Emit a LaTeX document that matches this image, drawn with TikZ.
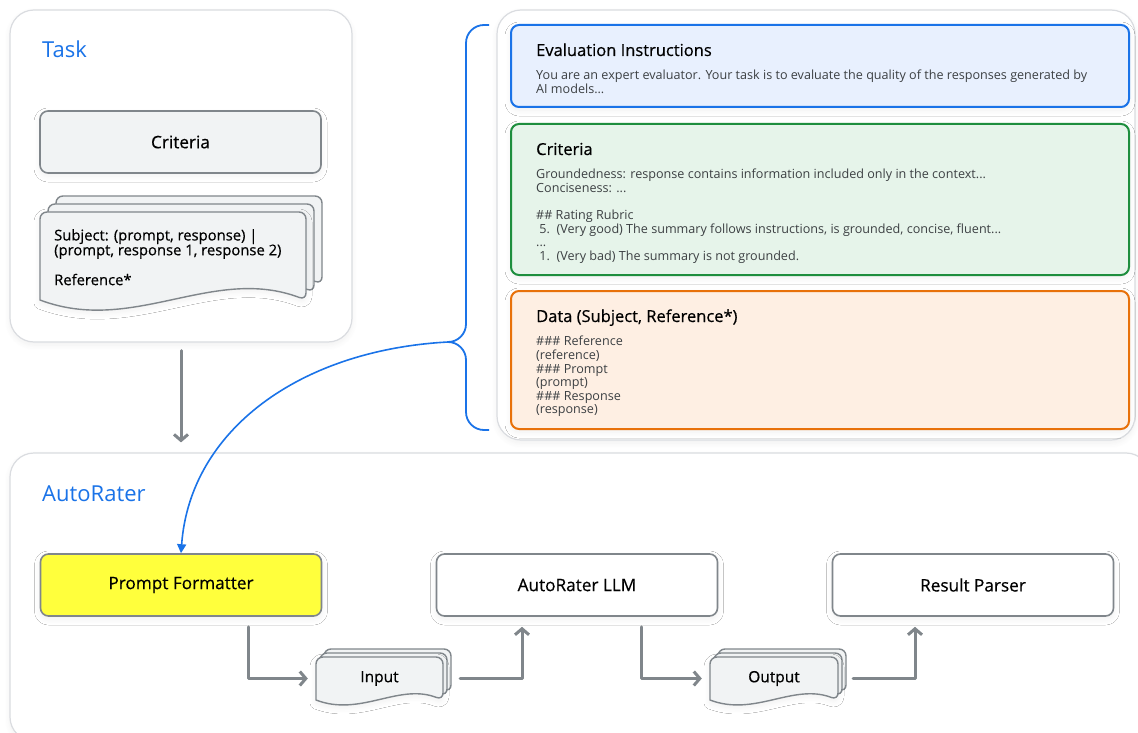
\documentclass[tikz,border=0pt]{standalone}
\usepackage{fontspec}
\setmainfont{Open Sans}
\newfontfamily\mediumfont{Open Sans}[FakeBold=0.5]
\usetikzlibrary{arrows.meta,calc,shadows.blur}

\definecolor{gblue}{HTML}{1A73E8}
\definecolor{ink}{HTML}{202124}
\definecolor{bodyink}{HTML}{3C4043}
\definecolor{panelgray}{HTML}{DADCE0}
\definecolor{boxgray}{HTML}{80868B}
\definecolor{pagegray}{HTML}{F1F3F4}
\definecolor{evalfill}{HTML}{E8F0FE}
\definecolor{critfill}{HTML}{E6F4EA}
\definecolor{critline}{HTML}{1E8E3E}
\definecolor{datafill}{HTML}{FEEFE3}
\definecolor{dataline}{HTML}{E8710A}
\definecolor{marker}{HTML}{FFFF3C}

% stack of three pages with a wavy lower edge: x, y (top left of front page), width, height, offset
\newcommand{\docstack}[5]{%
  \foreach \k in {2,1} {
    \pgfmathsetmacro{\pgx}{#1+\k*#5}
    \pgfmathsetmacro{\pgy}{#2-\k*#5}
    \filldraw[docpage] (\pgx,\pgy+#4) [rounded corners=7] -- (\pgx,\pgy) -- (\pgx+#3,\pgy) -- (\pgx+#3,\pgy+#4) [sharp corners]
      .. controls (\pgx+0.65*#3,\pgy+0.6*#4) and (\pgx+0.35*#3,\pgy+1.4*#4) .. cycle;
  }
  \filldraw[docpage, softshadow] (#1,#2+#4) [rounded corners=7] -- (#1,#2) -- (#1+#3,#2) -- (#1+#3,#2+#4) [sharp corners]
    .. controls (#1+0.65*#3,#2+0.6*#4) and (#1+0.35*#3,#2+1.4*#4) .. cycle;
}

\begin{document}
\begin{tikzpicture}[x=1pt, y=-1pt,
    softshadow/.style={blur shadow={shadow xshift=0pt, shadow yshift=-3pt, shadow opacity=6, shadow blur radius=6pt, shadow blur steps=10}},
    panel/.style={draw=panelgray, fill=white, line width=1.2pt, rounded corners=24pt, softshadow},
    paneltitle/.style={text=gblue, font=\fontsize{22}{26}\selectfont, inner sep=0pt},
    greybox/.style={draw=boxgray, fill=pagegray, line width=1.6pt, rounded corners=8pt, softshadow,
      minimum width=281, minimum height=62, text=black, font=\mediumfont\fontsize{17.2}{19}\selectfont},
    stepbox/.style={greybox, fill=white},
    docpage/.style={draw=boxgray, fill=pagegray, line width=1.4pt},
    doclabel/.style={inner sep=0pt, text=black, font=\mediumfont\fontsize{15.5}{18}\selectfont},
    ctxbox/.style={line width=2pt, rounded corners=8pt, minimum width=618, softshadow},
    ctxtitle/.style={anchor=base west, inner sep=0pt, text=black, font=\mediumfont\fontsize{16.5}{19}\selectfont},
    ctxbody/.style={anchor=north west, inner sep=0pt, align=left, text=bodyink, font=\fontsize{12.6}{13.6}\selectfont},
    flow/.style={draw=boxgray, line width=3pt, line cap=round, line join=round, -{Straight Barb[length=6pt,width=14pt]}},
    link/.style={draw=gblue, line width=1.6pt, -{Triangle[length=9pt,width=9pt]}}]
  \useasboundingbox (0,0) rectangle (1138,733);
  \clip (0,0) rectangle (1138,733);

  % panels
  \node[panel, minimum width=342, minimum height=332] (task) at (181,176) {};
  \node[panel, minimum width=638, minimum height=430] (ctx) at (816,225) {};
  \node[panel, minimum width=1140, minimum height=288] (ar) at (580,597) {};
  \node[paneltitle, anchor=base west] (taskT) at (42,58) {Task};
  \node[paneltitle, anchor=base west] (arT) at (42,501) {AutoRater};

  % task contents
  \node[greybox] (crit) at (180.5,142) {Criteria};
  \docstack{40}{212}{266}{88}{8}
  \node[anchor=north west, inner sep=0pt, align=left, text=black, font=\mediumfont\fontsize{14.8}{14.8}\selectfont] (subj) at (54,229)
    {Subject: (prompt, response) |\\(prompt, response 1, response 2)\\[14pt]Reference*};

  % prompt parts
  \node[ctxbox, draw=gblue, fill=evalfill, minimum height=82] (eval) at (820,66) {};
  \node[ctxtitle] (evalT) at (536,56) {Evaluation Instructions};
  \node[ctxbody] (evalB) at (536,70) {You are an expert evaluator. Your task is to evaluate the quality of the responses generated by\\AI models...};

  \node[ctxbox, draw=critline, fill=critfill, minimum height=151] (rubric) at (820,199.5) {};
  \node[ctxtitle] (rubricT) at (536,155) {Criteria};
  \node[ctxbody] (rubricB) at (536,169) {Groundedness: response contains information included only in the context...\\
    Conciseness: ...\\[13.6pt]
    \#\# Rating Rubric\\
    \ 5.\ \ (Very good) The summary follows instructions, is grounded, concise, fluent...\\
    ...\\
    \ 1.\ \ (Very bad) The summary is not grounded.};

  \node[ctxbox, draw=dataline, fill=datafill, minimum height=138] (data) at (820,360) {};
  \node[ctxtitle] (dataT) at (536,322) {Data (Subject, Reference*)};
  \node[ctxbody] (dataB) at (536,336) {\#\#\# Reference\\(reference)\\\#\#\# Prompt\\(prompt)\\\#\#\# Response\\(response)};

  % brace gathering the prompt parts
  \coordinate (tip) at (448,342);
  \draw[gblue, line width=1.8pt, rounded corners=18pt] (489,25) -| (466,342) -- (tip)
    (tip) -| (466,430) -- (489,430);

  % autorater pipeline
  \node[greybox, fill=marker] (pf) at (181,585) {Prompt Formatter};
  \node[stepbox] (llm) at (577,585) {AutoRater LLM};
  \node[stepbox] (rp) at (973,585) {Result Parser};
  \docstack{316}{657}{127}{43}{4}
  \node[doclabel, minimum width=127, minimum height=43] (inp) at (379.5,678.5) {Input};
  \docstack{710}{657}{128}{43}{4}
  \node[doclabel, minimum width=128, minimum height=43] (outp) at (774,678.5) {Output};

  % connectors
  \draw[flow] ([shift={(0,8)}]task.south) -- ([shift={(0,-10)}]task.south |- ar.north);
  \draw[link] (tip) .. controls (300,350) and (190,430) .. (pf.north);
  \draw[flow] ([shift={(67,10)}]pf.south) |- ([shift={(-8,0)}]inp.west);
  \draw[flow] ([shift={(17,0)}]inp.east) -| ([shift={(-55,10)}]llm.south);
  \draw[flow] ([shift={(64,10)}]llm.south) |- ([shift={(-8,0)}]outp.west);
  \draw[flow] ([shift={(15,0)}]outp.east) -| ([shift={(-58,10)}]rp.south);
\end{tikzpicture}
\end{document}
